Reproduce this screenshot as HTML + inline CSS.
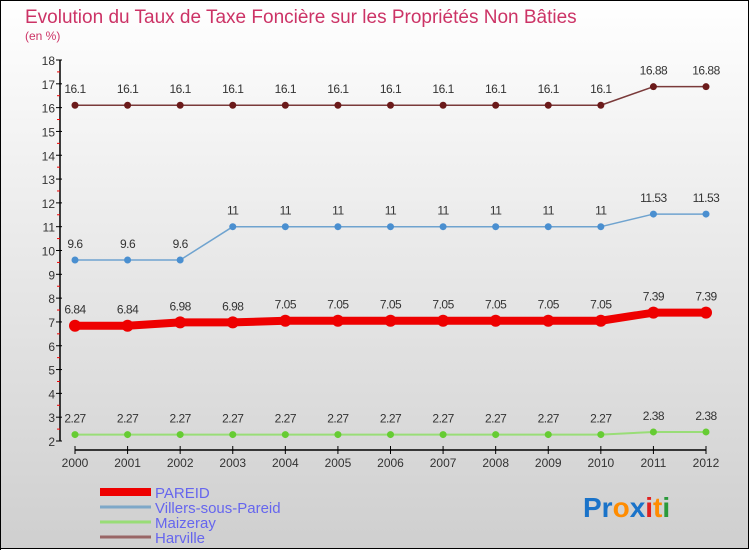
<!DOCTYPE html>
<html><head><meta charset="utf-8"><style>
html,body{margin:0;padding:0}
body{width:750px;height:550px;overflow:hidden;font-family:"Liberation Sans",sans-serif}
</style></head><body>
<svg width="750" height="550" xmlns="http://www.w3.org/2000/svg">
<defs><linearGradient id="bg" x1="0" y1="0" x2="0" y2="1"><stop offset="0" stop-color="#ffffff"/><stop offset="1" stop-color="#cfcfcf"/></linearGradient></defs>
<rect x="0.5" y="0.5" width="748" height="548" fill="url(#bg)" stroke="#000"/>
<rect x="0" y="0" width="1" height="550" fill="#000"/>
<text x="25" y="23" font-size="19" fill="#cc3366">Evolution du Taux de Taxe Foncière sur les Propriétés Non Bâties</text>
<text x="25" y="40" font-size="12" fill="#cc3366">(en %)</text>
<g id="axes"></g>
<g id="series"></g>
<g id="legend"></g>
<text x="583" y="517" font-size="28" font-weight="bold"><tspan fill="#1a73c9">Pr</tspan><tspan fill="#ff8c00">o</tspan><tspan fill="#1a73c9">x</tspan><tspan fill="#e02020">i</tspan><tspan fill="#ff8c00">t</tspan><tspan fill="#2a9a3a">i</tspan></text>
</svg>
<script>
const years=[2000,2001,2002,2003,2004,2005,2006,2007,2008,2009,2010,2011,2012];
const pareid=[6.84,6.84,6.98,6.98,7.05,7.05,7.05,7.05,7.05,7.05,7.05,7.39,7.39];
const villers=[9.6,9.6,9.6,11,11,11,11,11,11,11,11,11.53,11.53];
const maizeray=[2.27,2.27,2.27,2.27,2.27,2.27,2.27,2.27,2.27,2.27,2.27,2.38,2.38];
const harville=[16.1,16.1,16.1,16.1,16.1,16.1,16.1,16.1,16.1,16.1,16.1,16.88,16.88];
const yTicks=[2,3,4,5,6,7,8,9,10,11,12,13,14,15,16,17,18];
const NS="http://www.w3.org/2000/svg";
const X=i=>75+i*(706-75)/12;
const Y=v=>441-(v-2)*(441-60)/16;
function mk(p,tag,at){const e=document.createElementNS(NS,tag);for(const k in at)e.setAttribute(k,at[k]);p.appendChild(e);return e;}
const ax=document.getElementById('axes');
let yl=mk(ax,'line',{x1:60,y1:Y(18),x2:60,y2:441,stroke:'#000','stroke-width':1.5});


let xl=mk(ax,'line',{x1:75,y1:450,x2:706,y2:450,stroke:'#000','stroke-width':1.5});


yTicks.forEach(t=>{
  mk(ax,'line',{x1:56,y1:Y(t),x2:62,y2:Y(t),stroke:'#000'});
  if(t<18)mk(ax,'line',{x1:57,y1:Y(t+0.5),x2:60,y2:Y(t+0.5),stroke:'#e00'});
  const tx=mk(ax,'text',{x:55,y:Y(t)+5,'font-size':12,fill:'#333','text-anchor':'end'});
  tx.textContent=t;
  
  
});
years.forEach((yr,i)=>{
  mk(ax,'line',{x1:X(i),y1:446,x2:X(i),y2:454,stroke:'#000'});
  const tx=mk(ax,'text',{x:X(i),y:467,'font-size':12,fill:'#333','text-anchor':'middle'});
  tx.textContent=yr;
  
  
});
const sg=document.getElementById('series');
function series(vals,name,color,dot,w,r){
  const g=mk(sg,'g',{});
  
  
  mk(g,'polyline',{points:vals.map((v,i)=>X(i)+','+Y(v)).join(' '),fill:'none',stroke:color,'stroke-width':w,'stroke-linejoin':'round'});
  vals.forEach((v,i)=>{
    const c=mk(g,'circle',{cx:X(i),cy:Y(v),r:r,fill:dot});
    
    
    const t=mk(g,'text',{x:X(i),y:Y(v)-12,'font-size':12,fill:'#333','text-anchor':'middle','letter-spacing':'-0.5'});
    t.textContent=v;
    
    
  });
}
series(harville,'harville','#7a3a3a','#6b1a1a',1.5,3.5);
series(villers,'villers','#6fa3cf','#4a8fd0',1.5,3.5);
series(maizeray,'maizeray','#99dd77','#66cc33',2,3.5);
series(pareid,'pareid','#ee0000','#ee0000',8,6);
const lg=document.getElementById('legend');
const legNames=['PAREID','Villers-sous-Pareid','Maizeray','Harville'];
const legCols=['#ee0000','#7ea8c8','#99dd77','#996666'];
const legW=[8,3,3,3];
legNames.forEach((n,i)=>{
  const y=492+i*15;
  mk(lg,'line',{x1:100,y1:y,x2:151,y2:y,stroke:legCols[i],'stroke-width':legW[i]});
  const t=mk(lg,'text',{x:155,y:y+6,'font-size':15,fill:'#6666ee'});
  t.textContent=n;
  
  
});
</script>
</body></html>
